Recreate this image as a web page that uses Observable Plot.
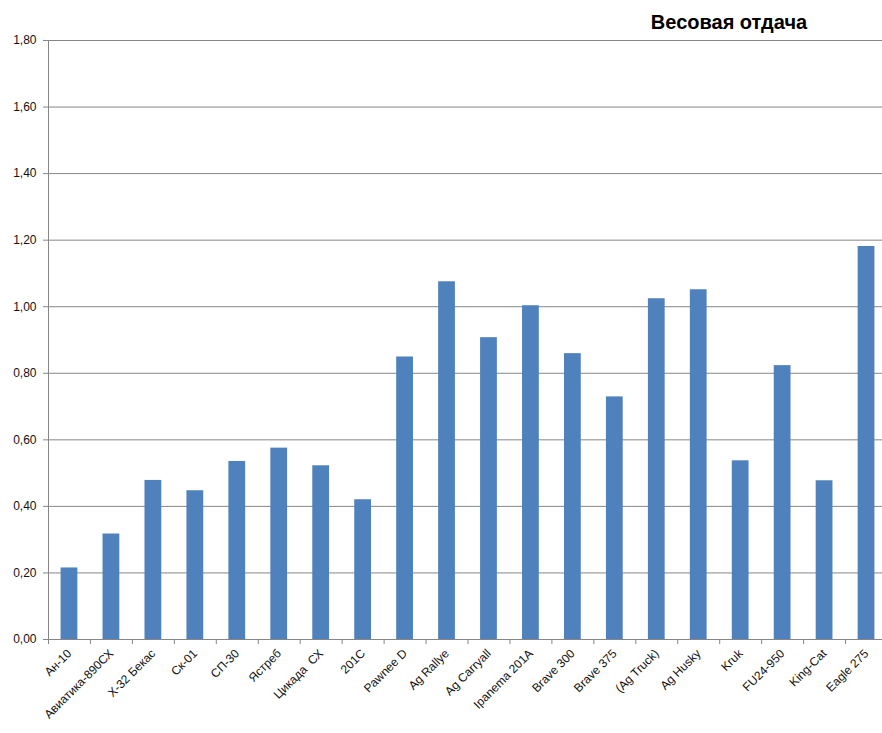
<!DOCTYPE html>
<html>
<head>
<meta charset="utf-8">
<script src="https://cdn.jsdelivr.net/npm/d3@7"></script>
<script src="https://cdn.jsdelivr.net/npm/@observablehq/plot@0.6"></script>
<style>
  html, body { margin: 0; padding: 0; background: #fff; overflow: hidden; }
  #wrap { position: relative; width: 882px; height: 733px; }
  #title { position: absolute; left: 0; top: 11px; width: 1458px; text-align: center;
           font: bold 20px "Liberation Sans", Arial, sans-serif; color: #000; }
</style>
</head>
<body>
<div id="wrap">
  <div id="chart"></div>
  <div id="title">Весовая отдача</div>
</div>
<script>
const title = "Весовая отдача";
const categories = ["Ан-10", "Авиатика-890СХ", "Х-32 Бекас", "Ск-01", "СП-30", "Ястреб", "Цикада  СХ", "201С",
  "Pawnee D", "Ag Rallye", "Ag Carryall", "Ipanema 201A", "Brave 300", "Brave 375", "(Ag Truck)", "Ag Husky",
  "Kruk", "FU24-950", "King-Cat", "Eagle 275"];
const values = [0.215, 0.317, 0.478, 0.447, 0.535, 0.575, 0.522, 0.420,
  0.849, 1.075, 0.907, 1.003, 0.859, 0.729, 1.024, 1.051,
  0.537, 0.823, 0.477, 1.181];
const yTicks = [0, 0.2, 0.4, 0.6, 0.8, 1.0, 1.2, 1.4, 1.6, 1.8];

const data = categories.map((name, i) => ({name, value: values[i]}));
const x0 = 48, x1 = 887;
const step = (x1 - x0) / categories.length;
const grid = "#868686";
const font = "Liberation Sans, Arial, sans-serif";

const chart = Plot.plot({
  width: 882,
  height: 733,
  marginLeft: 48,
  marginRight: 0,
  marginTop: 40,
  marginBottom: 94,
  style: {fontFamily: font, fontSize: "12px", color: "#111", background: "#fff"},
  x: {domain: categories, range: [x0, x1], round: false, paddingInner: 0.6, paddingOuter: 0.3, label: null},
  y: {domain: [0, 1.8], label: null},
  marks: [
    Plot.ruleY(yTicks, {stroke: grid, strokeWidth: 1}),
    Plot.barY(data, {x: "name", y: "value", fill: "#4F81BD"}),
    Plot.ruleX([categories[0]], {dx: -step / 2, y1: 0, y2: 1.8, stroke: grid}),
    Plot.axisY({ticks: yTicks, tickSize: 5, tickPadding: 7, stroke: grid, fill: "#111",
      tickFormat: d => d.toFixed(2).replace(".", ","), fontSize: 12, label: null}),
    Plot.axisX({tickSize: 5, text: null, dx: -step / 2, stroke: grid, label: null}),
    Plot.axisX({tickSize: 0, tickPadding: 12, tickRotate: -45, fill: "#111", fontSize: 12, label: null})
  ]
});
document.getElementById("chart").appendChild(chart);
document.getElementById("title").textContent = title;
</script>
</body>
</html>
